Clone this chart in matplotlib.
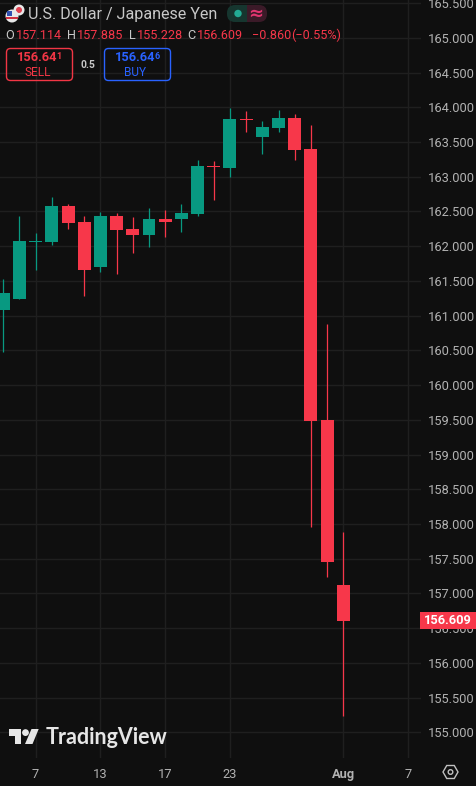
import matplotlib
matplotlib.use("Agg")
import matplotlib.pyplot as plt
from matplotlib.patches import Circle, FancyBboxPatch, Polygon, Rectangle, RegularPolygon

# daily candles
opens = [161.08, 161.24, 162.06, 162.06, 162.578, 162.348, 161.70, 162.434, 162.247, 162.161, 162.391,
         162.391, 162.463, 163.155, 163.126, 163.827, 163.572, 163.702, 163.846, 163.399, 159.497, 157.114]
highs = [161.527, 162.434, 162.19, 162.708, 162.607, 162.434, 162.492, 162.478, 162.42, 162.55, 162.521,
         162.607, 163.241, 163.227, 163.99, 163.947, 163.803, 163.961, 163.903, 163.745, 160.879, 157.885]
lows = [160.481, 161.24, 161.657, 162.017, 162.247, 161.282, 161.628, 161.599, 161.902, 161.988, 162.132,
        162.204, 162.434, 162.665, 162.996, 163.644, 163.327, 163.644, 163.241, 157.956, 157.236, 155.228]
closes = [161.33, 162.07, 162.07, 162.578, 162.334, 161.657, 162.434, 162.233, 162.161, 162.391, 162.348,
          162.478, 163.155, 163.14, 163.831, 163.817, 163.716, 163.846, 163.385, 159.482, 157.452, 156.609]
up_flags = [1, 1, 1, 1, 0, 0, 1, 0, 0, 1, 0, 1, 1, 0, 1, 0, 1, 1, 0, 0, 0, 0]

price_ticks = [155 + 0.5 * i for i in range(22)]
date_pos = [2, 6, 10, 14, 21, 25]
date_labels = ["7", "13", "17", "23", "Aug", "7"]

GREEN = "#089981"
RED = "#f7374a"
BG = "#0f0f0f"
GRID = "#1f1f1f"
TXT = "#b2b2b2"
FONT = "Roboto"

plt.rcParams["font.family"] = [FONT, "DejaVu Sans"]

fig = plt.figure(figsize=(4.77, 7.86), dpi=100, facecolor=BG)
ax = fig.add_axes([0, 28 / 786, 421 / 477, 758 / 786], facecolor=BG)

for i in range(len(opens)):
    col = GREEN if up_flags[i] else RED
    ax.vlines(i, lows[i], highs[i], color=col, linewidth=0.9, zorder=3)
    low_body = min(opens[i], closes[i])
    h = max(abs(closes[i] - opens[i]), 0.02)
    ax.bar(i, h, bottom=low_body, width=0.8, color=col, linewidth=0, zorder=4)

ax.set_xlim(-0.204, 25.8)
ax.set_ylim(154.63, 165.545)
ax.set_yticks(price_ticks)
ax.set_yticklabels(["%.3f" % p for p in price_ticks])
ax.yaxis.tick_right()
ax.set_xticks(date_pos)
ax.set_xticklabels(date_labels)
ax.tick_params(axis="both", length=0, labelcolor=TXT, labelsize=9.3)
ax.tick_params(axis="y", pad=5)
ax.tick_params(axis="x", pad=7)
ax.get_xticklabels()[4].set_fontweight("bold")
ax.grid(True, color=GRID, linewidth=1)
ax.set_axisbelow(True)
for s in ax.spines.values():
    s.set_visible(False)

# overlay in pixel coords for the header, price tag and logo
ov = fig.add_axes([0, 0, 1, 1], facecolor="none")
ov.set_xlim(0, 477)
ov.set_ylim(786, 0)
ov.axis("off")

# price tag
ov.add_patch(Rectangle((420, 612), 56, 17, color=RED, linewidth=0))
ov.text(448, 620.5, "%.3f" % closes[-1], color="white", fontsize=9.3, fontweight="bold", ha="center", va="center")

# flag icon
ov.add_patch(Circle((19, 10), 5.5, color="#e8e8e8", linewidth=0))
ov.add_patch(Circle((19, 10), 3, color="#e04050", linewidth=0))
ov.add_patch(Circle((12, 16), 6.5, color="#e8e8e8", linewidth=0))
ov.add_patch(Rectangle((6, 17), 12, 2, color="#d03040", linewidth=0))
ov.add_patch(Rectangle((7, 11), 5, 5, color="#3050b0", linewidth=0))

ov.text(28, 15, "U.S. Dollar / Japanese Yen", color="#c8c8c8", fontsize=11.6, va="center")

# status pill
ov.add_patch(FancyBboxPatch((247, 5), 20, 17, boxstyle="round,pad=0,rounding_size=8", color="#3b1a28", linewidth=0))
ov.add_patch(Rectangle((247, 5), 8, 17, color="#3b1a28", linewidth=0))
ov.add_patch(FancyBboxPatch((227, 5), 20, 17, boxstyle="round,pad=0,rounding_size=8", color="#16362f", linewidth=0))
ov.add_patch(Rectangle((239, 5), 8, 17, color="#16362f", linewidth=0))
ov.add_patch(Circle((238, 13.5), 3.7, color="#22ab94", linewidth=0))
ov.text(256, 13.5, "≈", color="#e0356f", fontsize=13, fontweight="bold", ha="center", va="center", family="DejaVu Sans")

# OHLC row
row = [("O", 5, "#c8c8c8"), ("%.3f" % opens[-1], 16, RED), ("H", 67, "#c8c8c8"), ("%.3f" % highs[-1], 77, RED),
       ("L", 129, "#c8c8c8"), ("%.3f" % lows[-1], 137, RED), ("C", 187, "#c8c8c8"), ("%.3f" % closes[-1], 197, RED),
       ("−0.860", 252, RED), ("(−0.55%)", 291, RED)]
for t, x, c in row:
    ov.text(x, 35.5, t, color=c, fontsize=9.1, va="center")

# sell / buy buttons
for x0, c, price, sup, label in [(6.5, "#f23645", "156.64", "1", "SELL"), (104.5, "#2962ff", "156.64", "6", "BUY")]:
    ov.add_patch(FancyBboxPatch((x0, 48.5), 66, 32, boxstyle="round,pad=0,rounding_size=4", fill=False, edgecolor=c, linewidth=1))
    ov.text(x0 + 30.5, 57.5, price, color=c, fontsize=9.3, fontweight="bold", ha="center", va="center")
    ov.text(x0 + 52.5, 56.5, sup, color=c, fontsize=6.5, fontweight="bold", ha="center", va="center")
    ov.text(x0 + 31, 72, label, color=c, fontsize=8.6, ha="center", va="center")
ov.text(88, 65, "0.5", color="#c8c8c8", fontsize=7.5, fontweight="bold", ha="center", va="center")

# logo
LOGO = "#e6e6e6"
ov.add_patch(Polygon([(9.3, 729), (21, 729), (21, 744), (14.6, 744), (14.6, 736), (9.3, 736)], color=LOGO, linewidth=0))
ov.add_patch(Circle((25.5, 732.6), 3.4, color=LOGO, linewidth=0))
ov.add_patch(Polygon([(31.5, 729), (38.7, 729), (32.5, 744), (25, 744)], color=LOGO, linewidth=0))
ov.text(46, 737, "TradingView", color=LOGO, fontsize=15.5, fontweight="bold", va="center", family="Lato")

# settings icon
ov.add_patch(RegularPolygon((450.5, 772), 6, radius=7.5, orientation=0.5236, fill=False, edgecolor="#c0c0c0", linewidth=1))
ov.add_patch(Circle((450.5, 772), 2.3, fill=False, edgecolor="#c0c0c0", linewidth=1))

plt.savefig("out.png", dpi=100, facecolor=BG)
